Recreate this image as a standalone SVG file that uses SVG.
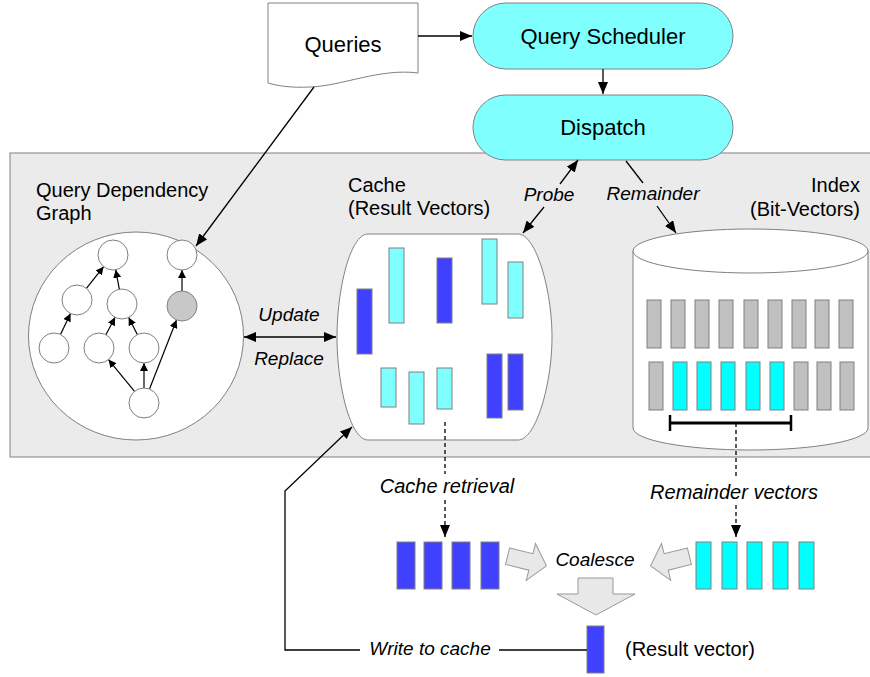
<svg xmlns="http://www.w3.org/2000/svg" width="870" height="677" viewBox="0 0 870 677">
<defs>
<marker id="ah" viewBox="0 0 12 10" refX="12" refY="5" markerWidth="12" markerHeight="10" markerUnits="userSpaceOnUse" orient="auto-start-reverse"><path d="M0,0 L12,5 L0,10 Z" fill="#000"/></marker>
<marker id="ahs" viewBox="0 0 8 8" refX="8" refY="4" markerWidth="8" markerHeight="8" markerUnits="userSpaceOnUse" orient="auto"><path d="M0,0 L8,4 L0,8 Z" fill="#000"/></marker>
</defs>
<style>
text{font-family:"Liberation Sans",Arial,Helvetica,sans-serif;fill:#000}
.big{font-size:22px}
.lab{font-size:20px}
.it{font-size:19px;font-style:italic}
.pill{fill:#80FFFF;stroke:#808080;stroke-width:1}
.wh{fill:#fff;stroke:#808080;stroke-width:1}
.db{fill:#4040FF;stroke:#808080;stroke-width:1}
.lc{fill:#80FFFF;stroke:#808080;stroke-width:1}
.cy{fill:#00FFFF;stroke:#808080;stroke-width:1}
.gr{fill:#C0C0C0;stroke:#808080;stroke-width:1}
.ln{stroke:#000;stroke-width:1.3;fill:none}
.dash{stroke:#000;stroke-width:1.3;fill:none;stroke-dasharray:4 3}
.blk{fill:#E8E8E8;stroke:#999;stroke-width:1}
.c{text-anchor:middle}
</style>

<g id="panel"><rect x="10" y="153" width="866" height="304" fill="#EBEBEB" stroke="#808080" stroke-width="1"/></g>

<g id="queries">
<path class="wh" d="M268,3 H418 V73 C380,68 342,86 310,87 C292,88 278,86 268,83 Z"/>
<text class="big c" x="343" y="52">Queries</text>
</g>

<g id="scheduler">
<rect class="pill" x="473" y="3" width="260" height="66" rx="33"/>
<text class="big c" x="603" y="44">Query Scheduler</text>
</g>

<g id="dispatch">
<rect class="pill" x="473" y="95" width="260" height="65" rx="32.5"/>
<text class="big c" x="603" y="135">Dispatch</text>
</g>

<g id="qdg">
<text class="lab" x="36" y="197">Query Dependency</text>
<text class="lab" x="36" y="220">Graph</text>
<ellipse class="wh" cx="136" cy="336" rx="107.5" ry="104"/>
<g stroke="#000" stroke-width="1.2" marker-end="url(#ahs)">
<line x1="86.4" y1="288.3" x2="103.6" y2="266.7"/>
<line x1="119.3" y1="289.2" x2="115.7" y2="269.8"/>
<line x1="182" y1="291" x2="182" y2="270"/>
<line x1="60.5" y1="334.5" x2="70.5" y2="313.5"/>
<line x1="105.9" y1="334.7" x2="115.1" y2="317.3"/>
<line x1="137.3" y1="334.6" x2="128.7" y2="317.4"/>
<line x1="134.5" y1="391.4" x2="108.5" y2="359.6"/>
<line x1="144" y1="388" x2="144" y2="363"/>
<line x1="149.5" y1="389" x2="176.5" y2="320"/>
</g>
<circle class="wh" cx="113" cy="255" r="15"/>
<circle class="wh" cx="182" cy="255" r="15"/>
<circle class="wh" cx="77" cy="300" r="15"/>
<circle class="wh" cx="122" cy="304" r="15"/>
<circle class="gr" cx="182" cy="306" r="15" style="fill:#C8C8C8"/>
<circle class="wh" cx="54" cy="348" r="15"/>
<circle class="wh" cx="99" cy="348" r="15"/>
<circle class="wh" cx="144" cy="348" r="15"/>
<circle class="wh" cx="144" cy="403" r="15"/>
</g>

<g id="cache">
<text class="lab" x="348" y="192">Cache</text>
<text class="lab" x="348" y="215">(Result Vectors)</text>
<path class="wh" d="M368,234 H518 C536,234 552,290 552,337 C552,384 536,440 518,440 H368 C350,440 337,384 337,337 C337,290 350,234 368,234 Z"/>
<rect class="db" x="357" y="289" width="15" height="65"/>
<rect class="lc" x="389" y="248" width="15" height="75"/>
<rect class="db" x="437" y="258" width="15" height="65"/>
<rect class="lc" x="482" y="239" width="15" height="65"/>
<rect class="lc" x="508" y="262" width="15" height="56"/>
<rect class="lc" x="381" y="368" width="15" height="39"/>
<rect class="lc" x="409" y="372" width="15" height="52"/>
<rect class="lc" x="437" y="368" width="15" height="41"/>
<rect class="db" x="487" y="354" width="15" height="64"/>
<rect class="db" x="508" y="354" width="15" height="56"/>
</g>

<g id="index">
<text class="lab" x="860" y="192" text-anchor="end">Index</text>
<text class="lab" x="860" y="216" text-anchor="end">(Bit-Vectors)</text>
<path class="wh" d="M633,251 V428 A117.5,22 0 0 0 868,428 V251 Z"/>
<ellipse class="wh" cx="750.5" cy="251" rx="117.5" ry="22"/>
<g class="gr">
<rect x="647" y="300" width="14" height="48"/><rect x="671" y="300" width="14" height="48"/><rect x="695" y="300" width="14" height="48"/><rect x="719" y="300" width="14" height="48"/><rect x="744" y="300" width="14" height="48"/><rect x="768" y="300" width="14" height="48"/><rect x="792" y="300" width="14" height="48"/><rect x="815" y="300" width="14" height="48"/><rect x="839" y="300" width="14" height="48"/>
<rect x="649" y="362" width="14" height="48"/><rect x="794" y="362" width="14" height="48"/><rect x="817" y="362" width="14" height="48"/><rect x="840" y="362" width="14" height="48"/>
</g>
<g class="cy">
<rect x="673" y="362" width="14" height="48"/><rect x="697" y="362" width="14" height="48"/><rect x="721" y="362" width="14" height="48"/><rect x="746" y="362" width="14" height="48"/><rect x="770" y="362" width="14" height="48"/>
</g>
<g stroke="#000" stroke-width="3">
<line x1="670" y1="423" x2="791" y2="423"/>
<line x1="670" y1="415" x2="670" y2="431" stroke-width="2.5"/>
<line x1="791" y1="415" x2="791" y2="431" stroke-width="2.5"/>
</g>
</g>

<g id="cache-retrieved">
<rect class="db" x="397" y="542" width="18" height="47"/>
<rect class="db" x="424" y="542" width="18" height="47"/>
<rect class="db" x="452" y="542" width="18" height="47"/>
<rect class="db" x="481" y="542" width="18" height="47"/>
</g>

<g id="remainder-vectors">
<rect class="cy" x="696" y="542" width="15" height="47"/>
<rect class="cy" x="722" y="542" width="15" height="47"/>
<rect class="cy" x="747" y="542" width="15" height="47"/>
<rect class="cy" x="773" y="542" width="15" height="47"/>
<rect class="cy" x="799" y="542" width="15" height="47"/>
</g>

<g id="coalesce">
<polygon class="blk" transform="translate(527,561) rotate(14)" points="-20,-8.5 4,-8.5 4,-19 20,0 4,19 4,8.5 -20,8.5"/>
<polygon class="blk" transform="translate(670,561) rotate(-14)" points="20,-8.5 -4,-8.5 -4,-19 -20,0 -4,19 -4,8.5 20,8.5"/>
<polygon class="blk" points="578,578 613,578 613,594 635,594 596,615 557,594 578,594"/>
<text class="it c" x="595" y="566">Coalesce</text>
</g>

<g id="result">
<rect class="db" x="587" y="626" width="17" height="47"/>
<text class="lab" x="625" y="656">(Result vector)</text>
</g>

<g id="connectors">
<line class="ln" x1="418" y1="36" x2="472" y2="36" marker-end="url(#ah)"/>
<line class="ln" x1="603" y1="69" x2="603" y2="94" marker-end="url(#ah)"/>
<line class="ln" x1="314" y1="87" x2="196" y2="246" marker-end="url(#ah)"/>
<line class="ln" x1="560" y1="184" x2="578" y2="160" marker-end="url(#ah)"/>
<line class="ln" x1="544" y1="207" x2="523" y2="233" marker-end="url(#ah)"/>
<text class="it c" x="549" y="201">Probe</text>
<line class="ln" x1="626" y1="161" x2="643" y2="183"/>
<line class="ln" x1="657" y1="206" x2="676" y2="233" marker-end="url(#ah)"/>
<text class="it c" x="653" y="200">Remainder</text>
<line class="ln" x1="244" y1="337" x2="336" y2="337" marker-start="url(#ah)" marker-end="url(#ah)"/>
<text class="it c" x="289" y="321">Update</text>
<text class="it c" x="289" y="365">Replace</text>
<line class="dash" x1="445" y1="422" x2="445" y2="474"/>
<line class="dash" x1="445" y1="500" x2="445" y2="537" marker-end="url(#ah)"/>
<text class="it c" x="447" y="493" style="font-size:20px">Cache retrieval</text>
<line class="dash" x1="736" y1="423" x2="736" y2="478"/>
<line class="dash" x1="736" y1="505" x2="736" y2="537" marker-end="url(#ah)"/>
<text class="it c" x="734" y="499" style="font-size:20px">Remainder vectors</text>
<line class="ln" x1="587" y1="650" x2="499" y2="650"/>
<polyline class="ln" points="360,650 285,650 285,491 352,427" marker-end="url(#ah)"/>
<text class="it c" x="430" y="655">Write to cache</text>
</g>
</svg>
